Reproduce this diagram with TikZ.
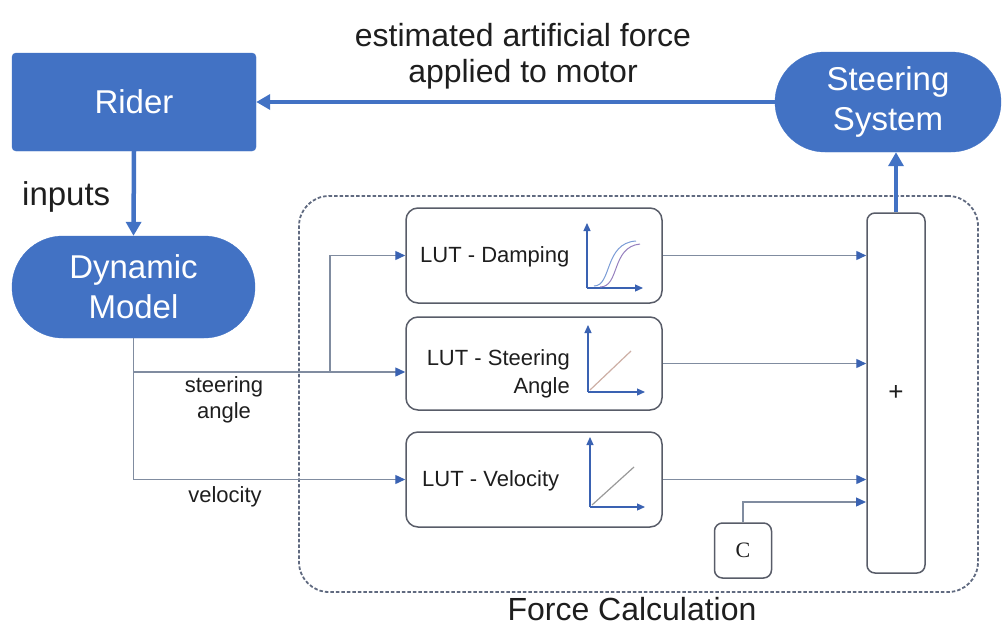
\documentclass[tikz,border=0pt]{standalone}
\usepackage{fontspec}
\setmainfont{Liberation Sans}
\newfontfamily\serifc{Liberation Serif}
\usepackage{xcolor}
\usepackage{tikz}
\usetikzlibrary{arrows.meta,shapes.misc}
\definecolor{bleubloc}{RGB}{66, 114, 196}
\definecolor{bleupointe}{RGB}{58, 98, 178}
\definecolor{grisligne}{RGB}{128, 140, 160}
\definecolor{grisbord}{RGB}{88, 92, 104}
\definecolor{griscadre}{RGB}{96, 106, 128}
\definecolor{noirtexte}{RGB}{30, 30, 30}
\definecolor{violetcourbe}{RGB}{150, 128, 190}
\definecolor{rosediag}{RGB}{205, 175, 165}

\begin{document}
\begin{tikzpicture}[x=1pt, y=-1pt,
  bloc/.style={fill=bleubloc, draw=bleubloc, text=white, align=center,
               inner sep=0pt, font=\fontsize{33}{40}\selectfont},
  capsule/.style={bloc, rounded rectangle},
  lut/.style={draw=grisbord, line width=1.5pt, rounded corners=12pt,
              minimum width=256pt, inner sep=0pt},
  luttxt/.style={text=noirtexte, inner sep=0pt, align=right,
                 font=\fontsize{22}{28}\selectfont},
  petit/.style={text=noirtexte, inner sep=0pt, align=center,
                font=\fontsize{22}{26}\selectfont},
  fil/.style={draw=grisligne, line width=1.4pt,
              -{Triangle[length=10pt, width=9pt, color=bleupointe]}},
  gros/.style={draw=bleubloc, line width=4.5pt,
               -{Triangle[length=14pt, width=15pt]}},
  axe/.style={draw=bleupointe, line width=1.2pt,
              -{Triangle[length=8pt, width=7pt]}}]
  \useasboundingbox (0,0) rectangle (1007,629);

  % cadre du calcul de force
  \node[draw=griscadre, line width=1.8pt, dash pattern=on 3.5pt off 2pt,
        rounded corners=30pt, minimum width=679pt, minimum height=396pt]
        (fc) at (638.5,394) {};
  \node[text=noirtexte, inner sep=0pt, anchor=base,
        font=\fontsize{32}{36}\selectfont] (fctxt) at (632,620) {Force Calculation};

  % blocs principaux
  \node[bloc, rounded corners=4pt, minimum width=244pt, minimum height=98pt]
        (rider) at (134,102) {Rider};
  \node[capsule, minimum width=226pt, minimum height=100pt]
        (steer) at (888,102) {Steering\\System};
  \node[capsule, minimum width=243pt, minimum height=102pt]
        (dyn) at (133.5,287) {Dynamic\\Model};

  \node[text=noirtexte, inner sep=0pt, align=center,
        font=\fontsize{32}{36}\selectfont] (force) at (523,56)
        {estimated artificial force\\applied to motor};
  \node[text=noirtexte, inner sep=0pt, anchor=base west,
        font=\fontsize{33}{36}\selectfont] (inputs) at (22,205) {inputs};

  % tables de correspondance
  \node[lut, minimum height=95pt] (dmp) at (534,255.5) {};
  \node[lut, minimum height=93pt] (sta) at (534,363.5) {};
  \node[lut, minimum height=95pt] (vel) at (534,479.5) {};
  \node[luttxt, anchor=west] (dmptxt) at (420,257) {LUT - Damping};
  \node[luttxt, anchor=east] (statxt) at (570,374) {LUT - Steering\\Angle};
  \node[luttxt, anchor=west] (veltxt) at (422,481) {LUT - Velocity};

  % petites courbes
  \draw[axe] (587,288) -- (587,223);
  \draw[axe] (587,288) -- (643,288);
  \draw[bleubloc!70, line width=1pt] (594,286) .. controls (612,286) and (604,243) .. (636,241);
  \draw[violetcourbe, line width=1pt] (600,287) .. controls (620,287) and (611,247) .. (640,244);
  \draw[axe] (588,392) -- (588,325);
  \draw[axe] (588,392) -- (645,392);
  \draw[rosediag, line width=1.2pt] (590,390) -- (631,351);
  \draw[axe] (590,507) -- (590,437);
  \draw[axe] (590,507) -- (645,507);
  \draw[gray!80, line width=1.2pt] (592,505) -- (634,467);

  % sommateur et constante
  \node[draw=grisbord, line width=1.5pt, rounded corners=8pt, inner sep=0pt,
        minimum width=58pt, minimum height=360pt, text=noirtexte,
        font=\fontsize{26}{26}\selectfont] (sum) at (896,393) {+};
  \node[draw=grisbord, line width=1.5pt, rounded corners=8pt, inner sep=0pt,
        minimum width=57pt, minimum height=55pt, text=noirtexte,
        font=\serifc\fontsize{22}{22}\selectfont] (cst) at (743,550.5) {C};

  % signaux
  \coordinate (split) at (133,372);
  \coordinate (branch) at (330,372);
  \coordinate (cin) at (866,502);
  \draw[fil] (dyn.south) |- (vel.west);
  \draw[fil] (split) -- (split -| sta.west);
  \draw[fil] (branch) |- (dmp.west);
  \node[petit] (angtxt) at (224,400) {steering\\angle};
  \node[petit] (veltxt2) at (225,497) {velocity};

  \draw[fil] (dmp.east) -- (dmp.east -| sum.west);
  \draw[fil] (sta.east) -- (sta.east -| sum.west);
  \draw[fil] (vel.east) -- (vel.east -| sum.west);
  \draw[fil] (cst.north) |- (cin);

  \draw[gros] (sum.north) -- (sum.north |- steer.south);
  \draw[gros] (steer.west) -- (rider.east);
  \draw[gros] (rider.south) -- (dyn.north);
\end{tikzpicture}
\end{document}
